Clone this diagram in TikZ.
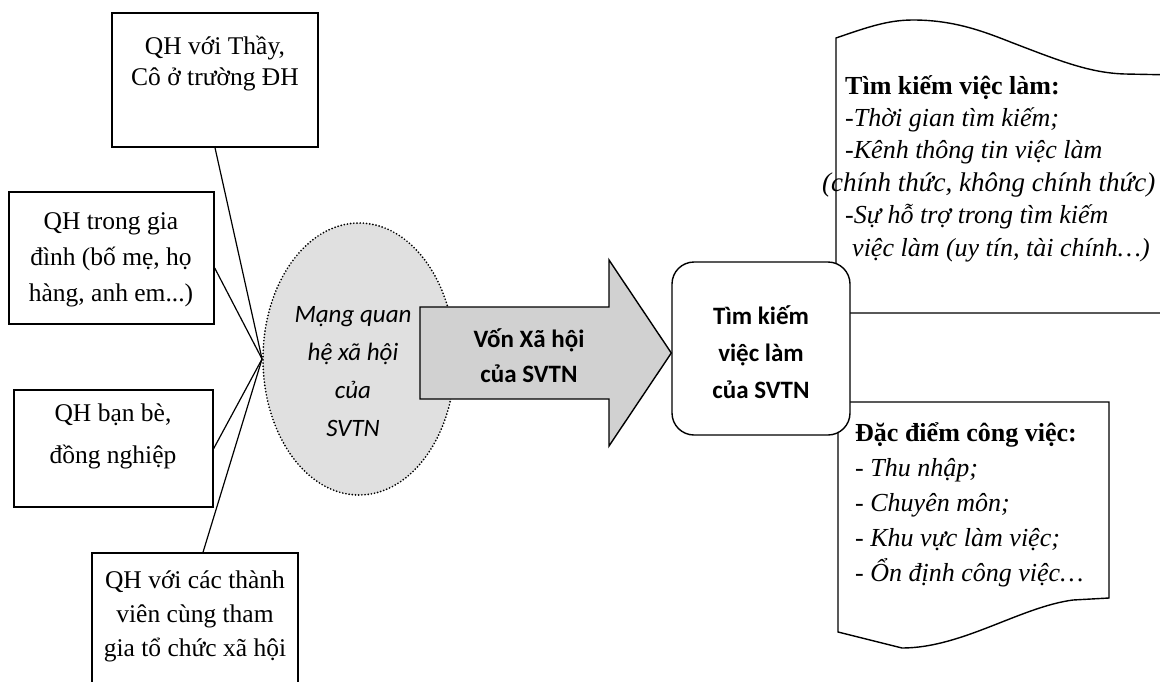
\documentclass[tikz,border=0pt]{standalone}
\usepackage{fontspec}
\setmainfont{Liberation Serif}
\newfontfamily\calibri{Carlito}
\usetikzlibrary{shapes.geometric,calc}
\tikzset{
  qbox/.style={draw, line width=1.4pt, fill=white, inner sep=0pt},
  qtext/.style={align=center, inner sep=0pt, font=\fontsize{25.5}{#1}\selectfont},
  link/.style={line width=1.2pt},
  doc/.style={draw, line width=1.4pt, fill=white},
  dtext/.style={align=left, inner sep=0pt, anchor=north west, font=\fontsize{26}{#1}\selectfont},
}
\begin{document}
\begin{tikzpicture}[x=1pt,y=-1pt]
\useasboundingbox (0,0) rectangle (1160,681);
\clip (0,0) rectangle (1160,681);
% left boxes
\node[qbox, minimum width=206pt, minimum height=134pt] (b1) at (215,80) {};
\node[qbox, minimum width=205pt, minimum height=132pt] (b2) at (111.5,258) {};
\node[qbox, minimum width=199pt, minimum height=117pt] (b3) at (113.5,448.5) {};
\node[qbox, minimum width=206pt, minimum height=160pt] (b4) at (195,633) {};
\node[qtext=31] (t1) at (215,64) {QH với Thầy,\\Cô ở trường ĐH};
\node[qtext=36] (t2) at (111,260) {QH trong gia\\đình (bố mẹ, họ\\hàng, anh em...)};
\node[qtext=42] (t3) at (113,436) {QH bạn bè,\\đồng nghiệp};
\node[qtext=34] (t4) at (195,616) {QH với các thành\\viên cùng tham\\gia tổ chức xã hội};
% ellipse
\node[ellipse, minimum width=192pt, minimum height=272pt, fill=black!12, draw, line width=1.9pt, line cap=round, dash pattern=on 0pt off 3.2pt] (ell) at (359,359) {};
\node[align=center, inner sep=0pt, font=\calibri\itshape\fontsize{25}{38}\selectfont] (mq) at (353,372) {Mạng quan\\hệ xã hội\\của\\SVTN};
% connectors
\draw[link] (b1.south) -- (ell.west);
\draw[link] ($(b2.east)+(0,10)$) -- (ell.west);
\draw[link] (b3.east) -- (ell.west);
\draw[link] ($(b4.north)+(8,0)$) -- (ell.west);
% documents
\path[doc] (836,262) -- (836,38) .. controls (868,27) and (888,20) .. (913,20) .. controls (955,20) and (985,32) .. (1013,43) .. controls (1060,61) and (1090,73) .. (1125,74) -- (1175,75) -- (1175,313) -- (836,313) -- cycle;
\path[doc] (838,632) -- (838,402) -- (1109,402) -- (1109,598) -- (1073,600) .. controls (1020,607) and (962,648) .. (902,648) -- cycle;
% rounded box
\node[draw, line width=1.4pt, fill=white, rounded corners=22pt, minimum width=178pt, minimum height=173pt, align=center, inner sep=0pt, font=\calibri\bfseries\fontsize{25}{37}\selectfont] (rb) at (761,348.5) {};
\node[align=center, inner sep=0pt, font=\calibri\bfseries\fontsize{25}{37}\selectfont] (rbt) at (761,352) {Tìm kiếm\\việc làm\\của SVTN};
% big arrow
\draw[line width=1.4pt, fill=black!18] (420,307) -- (609,307) -- (609,260) -- (rb.west |- 0,353) -- (609,446) -- (609,399) -- (420,399) -- cycle;
\node[align=center, inner sep=0pt, font=\calibri\bfseries\fontsize{25}{35}\selectfont] (vx) at (529,356) {Vốn Xã hội\\của SVTN};
% document texts
\node[dtext=32.4] (d1) at (845,75) {\textbf{Tìm kiếm việc làm:}\\\textit{-Thời gian tìm kiếm;}\\\textit{-Kênh thông tin việc làm}\\\hspace*{-23pt}\textit{\fontsize{27}{32.4}\selectfont(chính thức, không chính thức)}\\\textit{-Sự hỗ trợ trong tìm kiếm}\\\hspace*{7pt}\textit{việc làm (uy tín, tài chính…)}};
\node[dtext=35] (d2) at (855,422) {\textbf{Đặc điểm công việc:}\\\textit{- Thu nhập;}\\\textit{- Chuyên môn;}\\\textit{- Khu vực làm việc;}\\\textit{- Ổn định công việc…}};
\end{tikzpicture}
\end{document}
